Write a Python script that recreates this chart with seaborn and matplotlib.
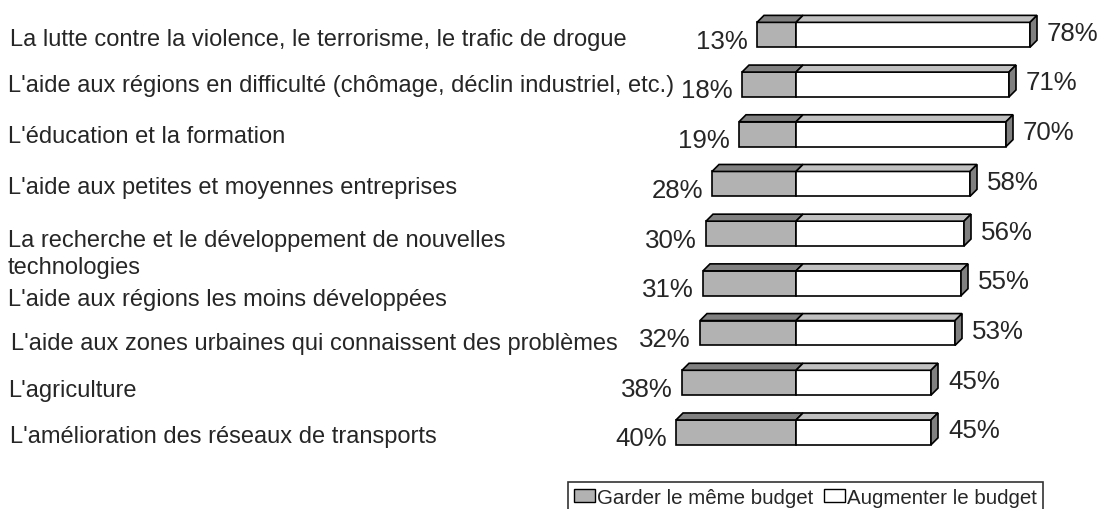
import matplotlib
matplotlib.use('Agg')
import matplotlib.pyplot as plt
from matplotlib.patches import Polygon, Patch
from matplotlib.transforms import blended_transform_factory
import seaborn as sns

# data
categories = [
    "La lutte contre la violence, le terrorisme, le trafic de drogue",
    "L'aide aux régions en difficulté (chômage, déclin industriel, etc.)",
    "L'éducation et la formation",
    "L'aide aux petites et moyennes entreprises",
    "La recherche et le développement de nouvelles\ntechnologies",
    "L'aide aux régions les moins développées",
    "L'aide aux zones urbaines qui connaissent des problèmes",
    "L'agriculture",
    "L'amélioration des réseaux de transports",
]
keep = [13, 18, 19, 28, 30, 31, 32, 38, 40]
increase = [78, 71, 70, 58, 56, 55, 53, 45, 45]
series_names = ["Garder le même budget", "Augmenter le budget"]

sns.set_theme(style="white")
plt.rcParams['font.family'] = ['Liberation Sans', 'DejaVu Sans']

W, H = 1099, 510
fig = plt.figure(figsize=(W / 100, H / 100), dpi=100)
ax = fig.add_axes([0, 0, 1, 1])

gray = '#b2b2b2'
gray_top = '#808080'
white_top = '#c0c0c0'

neg_keep = [-k for k in keep]
sns.barplot(x=neg_keep, y=categories, orient='h', color=gray, width=0.5,
            edgecolor='black', linewidth=1.2, errorbar=None, ax=ax, saturation=1)
sns.barplot(x=increase, y=categories, orient='h', color='white', width=0.5,
            edgecolor='black', linewidth=1.2, errorbar=None, ax=ax, saturation=1)

# pixel layout: zero at 796 px, 3 px per percent, rows every 49.7 px
px_x = 3.0
row_px = 49.7
ax.set_xlim(-796 / px_x, (W - 796) / px_x)
ax.set_ylim((H - 35.8) / row_px, -35.8 / row_px)
ax.set_axis_off()

dx = 7 / px_x
dy = 7 / row_px
hw = 0.25
for i, (k, v) in enumerate(zip(keep, increase)):
    yt = i - hw
    yb = i + hw
    xl = -k
    # top faces
    ax.add_patch(Polygon([(xl, yt), (0, yt), (dx, yt - dy), (xl + dx, yt - dy)],
                         closed=True, facecolor=gray_top, edgecolor='black', lw=1.2))
    ax.add_patch(Polygon([(0, yt), (v, yt), (v + dx, yt - dy), (dx, yt - dy)],
                         closed=True, facecolor=white_top, edgecolor='black', lw=1.2))
    # right side face
    ax.add_patch(Polygon([(v, yt), (v + dx, yt - dy), (v + dx, yb - dy), (v, yb)],
                         closed=True, facecolor=gray_top, edgecolor='black', lw=1.2))
    ax.text(xl - 9 / px_x, i + 6 / row_px, f"{k}%", ha='right', va='center', fontsize=18.6)
    ax.text(v + 17 / px_x, i - 2 / row_px, f"{v}%", ha='left', va='center', fontsize=18.6)

# category labels on the left
lab_x = [10, 8, 8, 8, 8, 8, 11, 8, 10]
lab_dy = [4, 1, 2, 3, 20, 16, 10, 7, 4]
tr = blended_transform_factory(ax.transAxes, ax.transData)
for i, lab in enumerate(categories):
    ax.text(lab_x[i] / W, i + lab_dy[i] / row_px, lab, transform=tr, ha='left',
            va='center', fontsize=17, linespacing=1.25)

handles = [Patch(facecolor=gray, edgecolor='black', lw=1),
           Patch(facecolor='white', edgecolor='black', lw=1)]
leg = fig.legend(handles, series_names, loc='upper left', ncol=2,
                 bbox_to_anchor=(568 / W, 1 - 483 / H), bbox_transform=fig.transFigure,
                 borderaxespad=0, fontsize=14.8, frameon=True, fancybox=False,
                 handlelength=1.0, handleheight=0.6, handletextpad=0.1,
                 columnspacing=0.55, borderpad=0.3)
leg.get_frame().set_edgecolor('black')
leg.get_frame().set_linewidth(1.2)

fig.savefig('out.png', dpi=100)
